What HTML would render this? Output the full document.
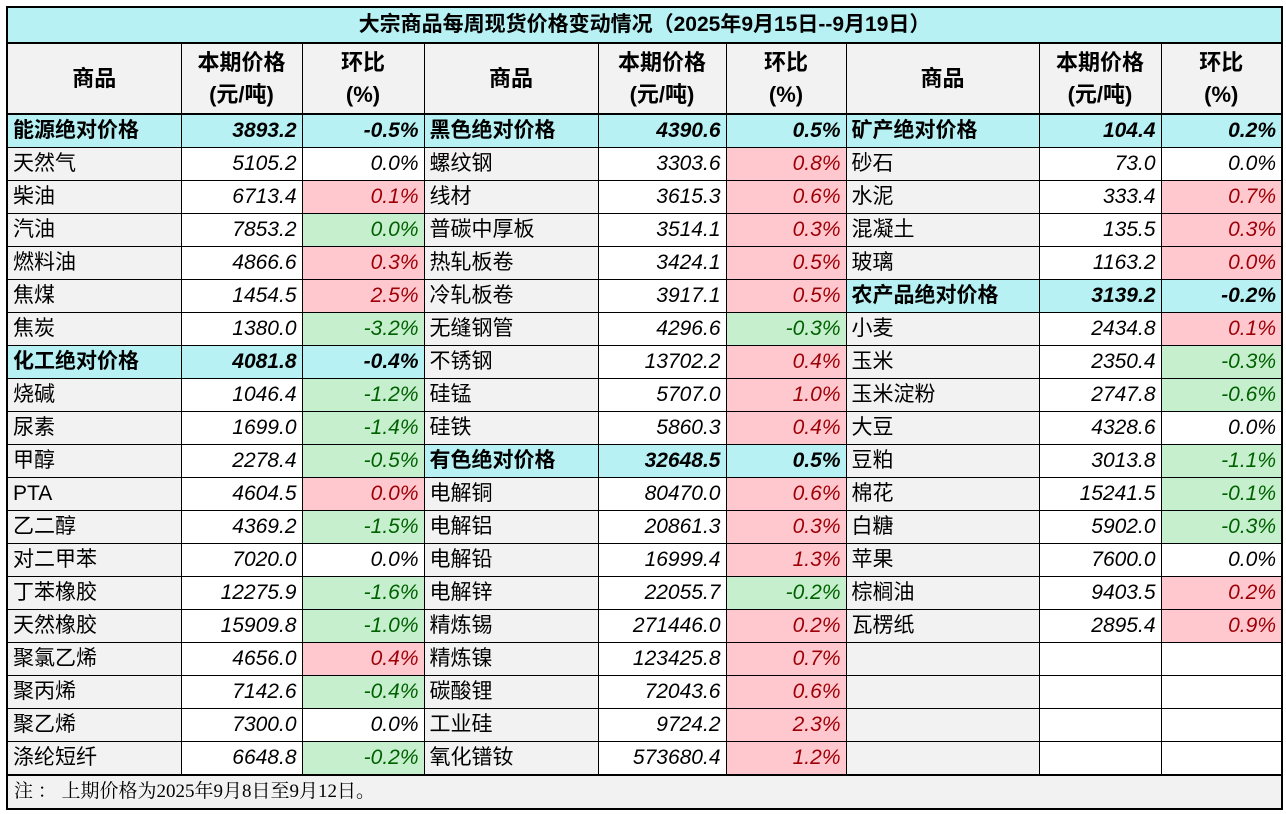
<!DOCTYPE html>
<html><head><meta charset="utf-8"><style>
body{margin:0;background:#fff;width:1286px;height:814px;overflow:hidden;position:relative}
table{position:absolute;left:6px;top:6px;border-collapse:collapse;table-layout:fixed;border:2px solid #000;font-family:"Liberation Sans","Noto Sans CJK SC",sans-serif}
td{border:1px solid #000;padding:0;overflow:hidden;white-space:nowrap;height:32px;line-height:32px}
td.n{background:#f2f2f2;font-size:21px;padding-left:5px;font-family:"Liberation Sans","Noto Sans CJK SC",sans-serif}
td.p,td.v{text-align:right;padding-right:5px;font-style:italic;font-size:21px;background:#fff}
td.r{background:#ffc7ce;color:#9c0006}
td.g{background:#c6efce;color:#006100}
.t td{background:#b7f1f3;text-align:center;font-weight:bold;font-size:21px;height:34px;line-height:34px;border-bottom:2px solid #000}
.h td{background:#f2f2f2;text-align:center;font-weight:bold;font-size:22px;height:69px;line-height:32px;border-bottom:2px solid #000}
.f td{background:#f2f2f2;font-family:"Liberation Serif","Noto Serif CJK SC",serif;font-size:19px;padding-left:6px;height:32px;border-top:2px solid #000}
</style></head><body>
<table>
<colgroup><col style="width:174px"><col style="width:121px"><col style="width:122px"><col style="width:174px"><col style="width:128px"><col style="width:120px"><col style="width:193px"><col style="width:122px"><col style="width:121px"></colgroup>
<tr class="t"><td colspan="9">大宗商品每周现货价格变动情况（2025年9月15日--9月19日）</td></tr>
<tr class="h"><td>商品</td><td>本期价格<br>(元/吨)</td><td>环比<br>(%)</td><td>商品</td><td>本期价格<br>(元/吨)</td><td>环比<br>(%)</td><td>商品</td><td>本期价格<br>(元/吨)</td><td>环比<br>(%)</td></tr>
<tr><td class="n" style="background:#b7f1f3;font-weight:bold">能源绝对价格</td><td class="p" style="background:#b7f1f3;font-weight:bold">3893.2</td><td class="v" style="background:#b7f1f3;font-weight:bold">-0.5%</td><td class="n" style="background:#b7f1f3;font-weight:bold">黑色绝对价格</td><td class="p" style="background:#b7f1f3;font-weight:bold">4390.6</td><td class="v" style="background:#b7f1f3;font-weight:bold">0.5%</td><td class="n" style="background:#b7f1f3;font-weight:bold">矿产绝对价格</td><td class="p" style="background:#b7f1f3;font-weight:bold">104.4</td><td class="v" style="background:#b7f1f3;font-weight:bold">0.2%</td></tr>
<tr><td class="n">天然气</td><td class="p">5105.2</td><td class="v">0.0%</td><td class="n">螺纹钢</td><td class="p">3303.6</td><td class="v r">0.8%</td><td class="n">砂石</td><td class="p">73.0</td><td class="v">0.0%</td></tr>
<tr><td class="n">柴油</td><td class="p">6713.4</td><td class="v r">0.1%</td><td class="n">线材</td><td class="p">3615.3</td><td class="v r">0.6%</td><td class="n">水泥</td><td class="p">333.4</td><td class="v r">0.7%</td></tr>
<tr><td class="n">汽油</td><td class="p">7853.2</td><td class="v g">0.0%</td><td class="n">普碳中厚板</td><td class="p">3514.1</td><td class="v r">0.3%</td><td class="n">混凝土</td><td class="p">135.5</td><td class="v r">0.3%</td></tr>
<tr><td class="n">燃料油</td><td class="p">4866.6</td><td class="v r">0.3%</td><td class="n">热轧板卷</td><td class="p">3424.1</td><td class="v r">0.5%</td><td class="n">玻璃</td><td class="p">1163.2</td><td class="v r">0.0%</td></tr>
<tr><td class="n">焦煤</td><td class="p">1454.5</td><td class="v r">2.5%</td><td class="n">冷轧板卷</td><td class="p">3917.1</td><td class="v r">0.5%</td><td class="n" style="background:#b7f1f3;font-weight:bold">农产品绝对价格</td><td class="p" style="background:#b7f1f3;font-weight:bold">3139.2</td><td class="v" style="background:#b7f1f3;font-weight:bold">-0.2%</td></tr>
<tr><td class="n">焦炭</td><td class="p">1380.0</td><td class="v g">-3.2%</td><td class="n">无缝钢管</td><td class="p">4296.6</td><td class="v g">-0.3%</td><td class="n">小麦</td><td class="p">2434.8</td><td class="v r">0.1%</td></tr>
<tr><td class="n" style="background:#b7f1f3;font-weight:bold">化工绝对价格</td><td class="p" style="background:#b7f1f3;font-weight:bold">4081.8</td><td class="v" style="background:#b7f1f3;font-weight:bold">-0.4%</td><td class="n">不锈钢</td><td class="p">13702.2</td><td class="v r">0.4%</td><td class="n">玉米</td><td class="p">2350.4</td><td class="v g">-0.3%</td></tr>
<tr><td class="n">烧碱</td><td class="p">1046.4</td><td class="v g">-1.2%</td><td class="n">硅锰</td><td class="p">5707.0</td><td class="v r">1.0%</td><td class="n">玉米淀粉</td><td class="p">2747.8</td><td class="v g">-0.6%</td></tr>
<tr><td class="n">尿素</td><td class="p">1699.0</td><td class="v g">-1.4%</td><td class="n">硅铁</td><td class="p">5860.3</td><td class="v r">0.4%</td><td class="n">大豆</td><td class="p">4328.6</td><td class="v">0.0%</td></tr>
<tr><td class="n">甲醇</td><td class="p">2278.4</td><td class="v g">-0.5%</td><td class="n" style="background:#b7f1f3;font-weight:bold">有色绝对价格</td><td class="p" style="background:#b7f1f3;font-weight:bold">32648.5</td><td class="v" style="background:#b7f1f3;font-weight:bold">0.5%</td><td class="n">豆粕</td><td class="p">3013.8</td><td class="v g">-1.1%</td></tr>
<tr><td class="n">PTA</td><td class="p">4604.5</td><td class="v r">0.0%</td><td class="n">电解铜</td><td class="p">80470.0</td><td class="v r">0.6%</td><td class="n">棉花</td><td class="p">15241.5</td><td class="v g">-0.1%</td></tr>
<tr><td class="n">乙二醇</td><td class="p">4369.2</td><td class="v g">-1.5%</td><td class="n">电解铝</td><td class="p">20861.3</td><td class="v r">0.3%</td><td class="n">白糖</td><td class="p">5902.0</td><td class="v g">-0.3%</td></tr>
<tr><td class="n">对二甲苯</td><td class="p">7020.0</td><td class="v">0.0%</td><td class="n">电解铅</td><td class="p">16999.4</td><td class="v r">1.3%</td><td class="n">苹果</td><td class="p">7600.0</td><td class="v">0.0%</td></tr>
<tr><td class="n">丁苯橡胶</td><td class="p">12275.9</td><td class="v g">-1.6%</td><td class="n">电解锌</td><td class="p">22055.7</td><td class="v g">-0.2%</td><td class="n">棕榈油</td><td class="p">9403.5</td><td class="v r">0.2%</td></tr>
<tr><td class="n">天然橡胶</td><td class="p">15909.8</td><td class="v g">-1.0%</td><td class="n">精炼锡</td><td class="p">271446.0</td><td class="v r">0.2%</td><td class="n">瓦楞纸</td><td class="p">2895.4</td><td class="v r">0.9%</td></tr>
<tr><td class="n">聚氯乙烯</td><td class="p">4656.0</td><td class="v r">0.4%</td><td class="n">精炼镍</td><td class="p">123425.8</td><td class="v r">0.7%</td><td class="n"></td><td class="p"></td><td class="v"></td></tr>
<tr><td class="n">聚丙烯</td><td class="p">7142.6</td><td class="v g">-0.4%</td><td class="n">碳酸锂</td><td class="p">72043.6</td><td class="v r">0.6%</td><td class="n"></td><td class="p"></td><td class="v"></td></tr>
<tr><td class="n">聚乙烯</td><td class="p">7300.0</td><td class="v">0.0%</td><td class="n">工业硅</td><td class="p">9724.2</td><td class="v r">2.3%</td><td class="n"></td><td class="p"></td><td class="v"></td></tr>
<tr><td class="n">涤纶短纤</td><td class="p">6648.8</td><td class="v g">-0.2%</td><td class="n">氧化镨钕</td><td class="p">573680.4</td><td class="v r">1.2%</td><td class="n"></td><td class="p"></td><td class="v"></td></tr>
<tr class="f"><td colspan="9">注 ： 上期价格为2025年9月8日至9月12日。</td></tr>
</table>
</body></html>
